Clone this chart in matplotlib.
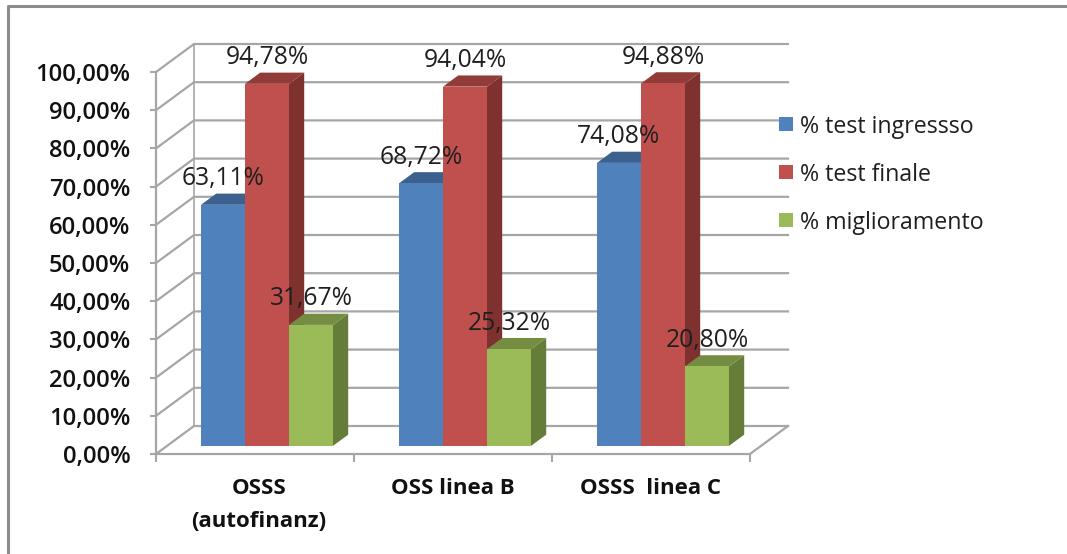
import matplotlib
matplotlib.use("Agg")
import matplotlib.pyplot as plt
from matplotlib.patches import Polygon, Rectangle
from matplotlib.lines import Line2D

categories = ["OSSS\n(autofinanz)", "OSS linea B", "OSSS  linea C"]
series_names = ["% test ingressso", "% test finale", "% miglioramento"]
test_ingresso = [63.11, 68.72, 74.08]
test_finale = [94.78, 94.04, 94.88]
miglioramento = [31.67, 25.32, 20.80]
y_ticks = [0, 10, 20, 30, 40, 50, 60, 70, 80, 90, 100]

series = [test_ingresso, test_finale, miglioramento]
front = ["#4F81BD", "#C0504D", "#9BBB59"]
top = ["#3C618E", "#923C3A", "#748D43"]
side = ["#365779", "#7F3130", "#667D3A"]
FONT = "Open Sans"
W, H = 1067, 554
L, R, T, B = 156, 750, 72, 454
PT = 72 / 100  # points per pixel at dpi 100

fig = plt.figure(figsize=(W / 100, H / 100), dpi=100, facecolor="white")
ax = fig.add_axes([L / W, 1 - B / H, (R - L) / W, (B - T) / H])
ax.set_xlim(0, 3)
ax.set_ylim(0, 100)
ax.patch.set_visible(False)

# oblique projection: depth d (0 front .. 1 back) shifts a point right and up
DX = 38 / ((R - L) / 3)
DY = 28 / ((B - T) / 100)
def pr(x, y, d):
    return (x + d * DX, y + d * DY)

grid = "#A6A6A6"
for v in y_ticks:
    ax.add_line(Line2D(*zip(pr(0, v, 0), pr(0, v, 1), pr(3, v, 1)), color=grid, lw=1.6,
                       clip_on=False, zorder=1))
ax.add_line(Line2D(*zip(pr(0, 0, 1), pr(0, 100, 1)), color=grid, lw=1.2, clip_on=False, zorder=1))
ax.add_line(Line2D(*zip(pr(3, 0, 0), pr(3, 0, 1)), color=grid, lw=1.6, clip_on=False, zorder=1))

bw = 44 / ((R - L) / 3)
start = 45 / ((R - L) / 3) - 0.29 * DX
d0, d1 = 0.29, 0.69
z = 3
for i in range(len(categories)):
    for s, vals in enumerate(series):
        v = vals[i]
        x0 = i + start + s * bw
        x1 = x0 + bw
        ax.add_patch(Polygon([pr(x1, 0, d0), pr(x1, 0, d1), pr(x1, v, d1), pr(x1, v, d0)],
                             fc=side[s], ec="none", clip_on=False, zorder=z))
        ax.add_patch(Polygon([pr(x0, v, d0), pr(x1, v, d0), pr(x1, v, d1), pr(x0, v, d1)],
                             fc=top[s], ec="none", clip_on=False, zorder=z))
        ax.add_patch(Polygon([pr(x0, 0, d0), pr(x1, 0, d0), pr(x1, v, d0), pr(x0, v, d0)],
                             fc=front[s], ec="none", clip_on=False, zorder=z + 0.5))
        lx, ly = pr(x0 + bw / 2, v, d0)
        ax.annotate(f"{v:.2f}%".replace(".", ","), (lx, ly), xytext=(0, 26 * PT),
                    textcoords="offset points", ha="center", va="center", fontsize=17.7,
                    family=FONT, color="#1f1f1f", zorder=20)
    z += 1

for sp in ("top", "right"):
    ax.spines[sp].set_visible(False)
for sp in ("left", "bottom"):
    ax.spines[sp].set_color(grid)
    ax.spines[sp].set_linewidth(1.6)
    ax.spines[sp].set_zorder(2)

ax.set_yticks(y_ticks)
ax.set_yticklabels([f"{v:.2f}%".replace(".", ",") for v in y_ticks], fontsize=17.1,
                   family=FONT, fontweight="semibold", color="#111111")
ax.tick_params(axis="y", length=4, width=1.5, color=grid, pad=14.5)
ax.set_xticks([0, 1, 2, 3])
ax.set_xticklabels([])
ax.tick_params(axis="x", length=6, width=1.5, color=grid)
label_x = [0.52, 1.5, 2.5]
for lx, c in zip(label_x, categories):
    ax.annotate(c, (lx, 0), xytext=(0, -24 * PT), textcoords="offset points", ha="center",
                va="top", fontsize=16, family=FONT, fontweight="bold", color="#111111",
                linespacing=1.72, annotation_clip=False)

# legend
for name, col, yc in zip(series_names, front, [124, 172, 220]):
    fig.add_artist(Rectangle((779 / W, 1 - (yc + 7) / H), 14 / W, 14 / H, fc=col, ec="none",
                             transform=fig.transFigure))
    fig.text(800 / W, 1 - yc / H, name, fontsize=16.7, family=FONT, color="#1f1f1f",
             ha="left", va="center_baseline")

# outer picture frame
fig.add_artist(Line2D([8 / W, 8 / W, 1], [0, 1 - 6 / H, 1 - 6 / H], color="#8C8C8C", lw=2.2,
                      transform=fig.transFigure))

fig.savefig("out.png", dpi=100, facecolor="white")
